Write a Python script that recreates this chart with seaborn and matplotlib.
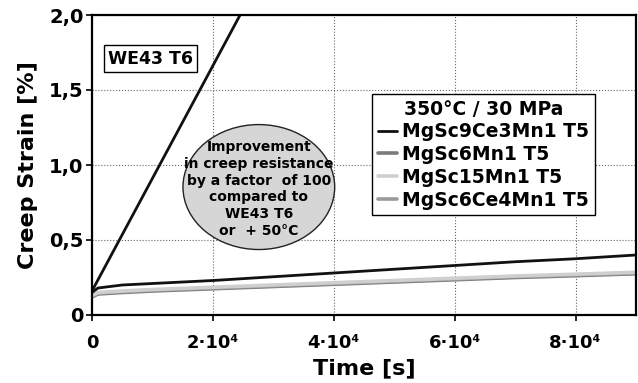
import numpy as np
import pandas as pd
import matplotlib
matplotlib.use("Agg")
import matplotlib.pyplot as plt
from matplotlib.patches import Ellipse
import seaborn as sns

# ---- data ----
time_s = [0, 1e3, 5e3, 1e4, 2e4, 3e4, 4e4, 5e4, 6e4, 7e4, 8e4, 9e4]
mgsc9ce3mn1 = [0.15, 0.18, 0.20, 0.21, 0.23, 0.255, 0.28, 0.305, 0.33, 0.355, 0.375, 0.40]
mgsc6mn1 = [0.12, 0.14, 0.15, 0.16, 0.175, 0.19, 0.205, 0.22, 0.235, 0.25, 0.262, 0.275]
mgsc15mn1 = [0.13, 0.15, 0.16, 0.17, 0.185, 0.20, 0.215, 0.23, 0.245, 0.26, 0.272, 0.285]
mgsc6ce4mn1 = [0.125, 0.145, 0.155, 0.165, 0.18, 0.195, 0.21, 0.225, 0.24, 0.255, 0.267, 0.28]
we43_time = [0, 2.45e4]
we43_strain = [0.16, 2.0]

series_names = ["MgSc9Ce3Mn1 T5", "MgSc6Mn1 T5", "MgSc15Mn1 T5", "MgSc6Ce4Mn1 T5"]
series_values = [mgsc9ce3mn1, mgsc6mn1, mgsc15mn1, mgsc6ce4mn1]
series_colors = ["#111111", "#7a7a7a", "#cfcfcf", "#999999"]

x_ticks = [0, 2e4, 4e4, 6e4, 8e4]
x_tick_labels = ["0", "2·10⁴", "4·10⁴", "6·10⁴", "8·10⁴"]
y_ticks = [0, 0.5, 1.0, 1.5, 2.0]
y_tick_labels = ["0", "0,5", "1,0", "1,5", "2,0"]

ellipse_lines = ["Improvement", "in creep resistance", "by a factor  of 100",
                 "compared to", "WE43 T6", "or  + 50°C"]

# ---- plot ----
sns.set_style("white")
plt.rcParams["font.family"] = ["DejaVu Sans"]
plt.rcParams["font.weight"] = "bold"
for k in ["text.color", "axes.labelcolor", "xtick.color", "ytick.color"]:
    plt.rcParams[k] = "black"

fig = plt.figure(figsize=(6.38, 3.83), dpi=100)
ax = fig.add_axes([92/638, 1-315/383, 544/638, 300/383])

df = pd.DataFrame({"time": we43_time, "strain": we43_strain})
sns.lineplot(data=df, x="time", y="strain", ax=ax, color="#111111", linewidth=2.0,
             legend=False, label="_we43")

# gray curves first, black on top
order = [1, 3, 2, 0]
for i in order:
    d = pd.DataFrame({"time": time_s, "strain": series_values[i]})
    sns.lineplot(data=d, x="time", y="strain", ax=ax, color=series_colors[i],
                 linewidth=2.6 if i else 2.0, label=series_names[i])

ax.set_xlim(0, 9e4)
ax.set_ylim(0, 2.0)
ax.set_xticks(x_ticks)
ax.set_xticklabels(x_tick_labels, fontsize=13, fontweight="bold")
ax.set_yticks(y_ticks)
ax.set_yticklabels(y_tick_labels, fontsize=14, fontweight="bold")
ax.tick_params(axis="both", direction="out", length=4, width=1.2, color="black",
               bottom=True, left=True)
ax.tick_params(axis="y", pad=2)
ax.tick_params(axis="x", pad=10)
ax.grid(True, color="#666666", linestyle=":", linewidth=0.8)
for s in ax.spines.values():
    s.set_color("black")
    s.set_linewidth(1.6)

ax.set_xlabel("Time [s]", fontsize=16, fontweight="bold", labelpad=4)
ax.set_ylabel("Creep Strain [%]", fontsize=16, fontweight="bold", labelpad=8)

# WE43 label box
ax.text(0.97e4, 1.71, "WE43 T6", ha="center", va="center", fontsize=12.5,
        fontweight="bold",
        bbox=dict(boxstyle="square,pad=0.25", facecolor="white", edgecolor="black",
                  linewidth=1.0))

# Ellipse annotation
ell = Ellipse((2.76e4, 0.853), 2.51e4, 0.833, facecolor="#d6d6d6", edgecolor="#222222",
              linewidth=1.0, zorder=3)
ax.add_patch(ell)
ax.text(2.76e4, 0.84, "\n".join(ellipse_lines), ha="center", va="center",
        fontsize=10, fontweight="bold", linespacing=1.25, zorder=4)

# legend
h, l = ax.get_legend_handles_labels()
lut = dict(zip(l, h))
leg = ax.legend([lut[n] for n in series_names], series_names,
                title="350°C / 30 MPa", loc="upper left",
                bbox_to_anchor=(0.515, 0.737), borderaxespad=0,
                fancybox=False, frameon=True, edgecolor="black", framealpha=1,
                handlelength=1.0, handletextpad=0.3, labelspacing=0.2,
                borderpad=0.3, prop={"size": 13.5, "weight": "bold"},
                title_fontproperties={"size": 13.5, "weight": "bold"})
leg.get_frame().set_linewidth(1.0)

fig.savefig("out.png", dpi=100)
